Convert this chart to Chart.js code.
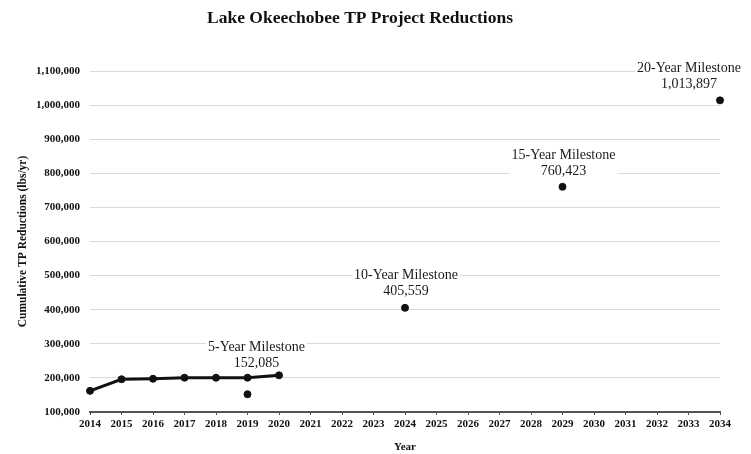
<!DOCTYPE html>
<html>
<head>
<meta charset="utf-8">
<script src="https://cdn.jsdelivr.net/npm/chart.js@4/dist/chart.umd.min.js"></script>
<style>
html,body{margin:0;padding:0;background:#fff;}
#wrap{width:751px;height:454px;}
</style>
</head>
<body>
<div id="wrap"><canvas id="c" width="751" height="454"></canvas></div>
<script>
// ---- data ----
const actualYears = [2014, 2015, 2016, 2017, 2018, 2019, 2020];
const actualValues = [162000, 196000, 197500, 200500, 200500, 200500, 207500];
const milestoneYears = [2019, 2024, 2029, 2034];
const milestoneValues = [152085, 405559, 760423, 1013897];
const milestoneNames = ['5-Year Milestone', '10-Year Milestone', '15-Year Milestone', '20-Year Milestone'];
const yTicks = [100000, 200000, 300000, 400000, 500000, 600000, 700000, 800000, 900000, 1000000, 1100000];
const xTickYears = [2014, 2015, 2016, 2017, 2018, 2019, 2020, 2021, 2022, 2023, 2024, 2025, 2026, 2027, 2028, 2029, 2030, 2031, 2032, 2033, 2034];

// label placement (styling, pixel offsets from point)
const labelOffsets = [
  {dx: 9, dy: -47},
  {dx: 1, dy: -32},
  {dx: 1, dy: -31},
  {dx: -31, dy: -32}
];

const SERIF = '"Liberation Serif", "Times New Roman", serif';
const fmt = v => v.toLocaleString('en-US');

const milestoneLabels = {
  id: 'milestoneLabels',
  beforeDatasetsDraw(chart) {
    const ctx = chart.ctx;
    const xs = chart.scales.x, ys = chart.scales.y;
    ctx.save();
    ctx.font = '14px ' + SERIF;
    ctx.textAlign = 'center';
    ctx.textBaseline = 'middle';
    milestoneYears.forEach((yr, i) => {
      const px = xs.getPixelForValue(yr) + labelOffsets[i].dx;
      const py = ys.getPixelForValue(milestoneValues[i]) + labelOffsets[i].dy;
      const l1 = milestoneNames[i], l2 = fmt(milestoneValues[i]);
      const w = Math.max(ctx.measureText(l1).width, ctx.measureText(l2).width) + 4;
      ctx.fillStyle = '#fff';
      ctx.fillRect(px - w / 2, py - 8, w, 32);
      ctx.fillStyle = '#1a1a1a';
      ctx.fillText(l1, px, py);
      ctx.fillText(l2, px, py + 16);
    });
    ctx.restore();
  }
};

new Chart(document.getElementById('c'), {
  type: 'scatter',
  data: {
    datasets: [
      {
        label: 'Cumulative',
        data: actualYears.map((y, i) => ({x: y, y: actualValues[i]})),
        showLine: true,
        clip: false,
        borderColor: '#111',
        backgroundColor: '#111',
        borderWidth: 3,
        pointBorderWidth: 1,
        pointRadius: 3.5,
        pointHoverRadius: 3.5,
        tension: 0
      },
      {
        label: 'Milestones',
        data: milestoneYears.map((y, i) => ({x: y, y: milestoneValues[i]})),
        showLine: false,
        clip: false,
        borderColor: '#111',
        backgroundColor: '#111',
        pointBorderWidth: 1,
        pointRadius: 3.5,
        pointHoverRadius: 3.5
      }
    ]
  },
  options: {
    responsive: false,
    animation: false,
    events: [],
    layout: {padding: {left: 0, right: 31, top: 0, bottom: 0}},
    plugins: {
      legend: {display: false},
      tooltip: {enabled: false},
      title: {
        display: true,
        text: 'Lake Okeechobee TP Project Reductions',
        color: '#111',
        font: {family: SERIF, size: 17.5, weight: 'bold'},
        padding: {top: 8, bottom: 42}
      }
    },
    scales: {
      x: {
        type: 'linear',
        min: 2014,
        max: 2034,
        afterBuildTicks: s => { s.ticks = xTickYears.map(v => ({value: v})); },
        afterFit: s => { s.height = 42; },
        ticks: {
          color: '#111',
          font: {family: SERIF, size: 11, weight: 'bold'},
          padding: 3,
          maxRotation: 0,
          autoSkip: false,
          callback: v => String(v)
        },
        grid: {drawOnChartArea: false, drawTicks: true, tickLength: 3, color: '#555', lineWidth: 1},
        border: {display: true, color: '#555', width: 2},
        title: {
          display: true,
          text: 'Year',
          color: '#111',
          font: {family: SERIF, size: 11, weight: 'bold'},
          padding: {top: 4, bottom: 0}
        }
      },
      y: {
        min: 100000,
        max: 1100000,
        afterBuildTicks: s => { s.ticks = yTicks.map(v => ({value: v})); },
        afterFit: s => { s.width = 90; },
        ticks: {
          color: '#111',
          font: {family: SERIF, size: 11, weight: 'bold'},
          padding: 10,
          callback: v => fmt(v)
        },
        grid: {drawTicks: false, color: '#d9d9d9', lineWidth: 1},
        border: {display: false},
        title: {
          display: true,
          text: 'Cumulative TP Reductions (lbs/yr)',
          color: '#111',
          font: {family: SERIF, size: 11.5, weight: 'bold'},
          padding: {top: 16, bottom: 0}
        }
      }
    }
  },
  plugins: [milestoneLabels]
});
</script>
</body>
</html>
